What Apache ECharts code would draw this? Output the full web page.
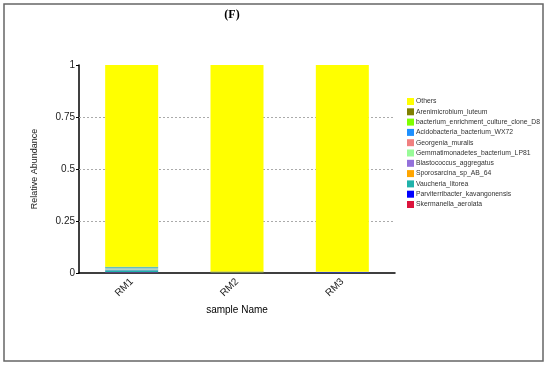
<!DOCTYPE html>
<html><head><meta charset="utf-8">
<script src="https://cdn.jsdelivr.net/npm/echarts@6/dist/echarts.min.js"></script>
<style>html,body{margin:0;padding:0;background:#fff}#c{width:550px;height:368px}</style>
</head><body><div id="c"></div>
<script>
const categories = ['RM1','RM2','RM3'];
// bottom-to-top stack order
const seriesNames = ['Skermanella_aerolata','Parviterribacter_kavangonensis','Vaucheria_litorea','Sporosarcina_sp_AB_64','Blastococcus_aggregatus','Gemmatimonadetes_bacterium_LP81','Georgenia_muralis','Acidobacteria_bacterium_WX72','bacterium_enrichment_culture_clone_D8','Arenimicrobium_luteum','Others'];
const colors = ['#DC143C','#0000FF','#20B2AA','#FFA500','#9370DB','#98FB98','#F08080','#1E90FF','#7FFF00','#808000','#FFFF00'];
const Skermanella_aerolata = [0.003, 0.001, 0.001];
const Parviterribacter_kavangonensis = [0.001, 0.0005, 0.003];
const Vaucheria_litorea = [0.009, 0.0005, 0.0005];
const Sporosarcina_sp_AB_64 = [0.0005, 0.0005, 0.0003];
const Blastococcus_aggregatus = [0.003, 0.0003, 0.0003];
const Gemmatimonadetes_bacterium_LP81 = [0.005, 0.0003, 0.0003];
const Georgenia_muralis = [0.001, 0.0003, 0.0002];
const Acidobacteria_bacterium_WX72 = [0.005, 0.0003, 0.0003];
const bacterium_enrichment_culture_clone_D8 = [0.001, 0.0003, 0.0002];
const Arenimicrobium_luteum = [0.001, 0.003, 0.0005];
const Others = [0.9705, 0.9933, 0.9934];
const yTicks = [0, 0.25, 0.5, 0.75, 1];
const gridLines = [0.25, 0.5, 0.75];

const dataMap = {Skermanella_aerolata, Parviterribacter_kavangonensis, Vaucheria_litorea, Sporosarcina_sp_AB_64, Blastococcus_aggregatus, Gemmatimonadetes_bacterium_LP81, Georgenia_muralis, Acidobacteria_bacterium_WX72, bacterium_enrichment_culture_clone_D8, Arenimicrobium_luteum, Others};

const series = seriesNames.map((n,i)=>({
  name:n, type:'bar', stack:'s', barWidth:53, data:dataMap[n],
  itemStyle:{color:colors[i]}, z: 3,
  markLine: i===0 ? {silent:true, symbol:'none', label:{show:false}, z:1,
    lineStyle:{color:'#aaa', type:[2,2], width:1},
    data: gridLines.map(v=>({yAxis:v}))} : undefined
}));

const chart = echarts.init(document.getElementById('c'));
chart.setOption({
  animation:false,
  title:{text:'(F)', left:227, top:4, textAlign:'center',
    textStyle:{fontFamily:'Liberation Serif', fontWeight:'bold', fontSize:12, color:'#000'}},
  graphic:[{type:'rect', shape:{x:4,y:4,width:539,height:357}, style:{fill:'none', stroke:'#666', lineWidth:1.5}, silent:true}],
  grid:{left:79, right:155, top:65, bottom:95},
  legend:{data:seriesNames.slice().reverse(), orient:'vertical', left:402, top:93, itemWidth:7, itemHeight:7, itemGap:3.3,
    icon:'rect', textStyle:{fontSize:6.8, color:'#333', fontFamily:'Liberation Sans', padding:[0,0,0,-3]}},
  xAxis:{type:'category', data:categories, name:'sample Name', nameLocation:'middle', nameGap:28,
    nameTextStyle:{fontSize:10, color:'#000', fontFamily:'Liberation Sans'},
    axisLine:{lineStyle:{color:'#000', width:1.5}}, axisTick:{length:3, lineStyle:{color:'#000'}},
    axisLabel:{rotate:45, fontSize:10, color:'#222', fontFamily:'Liberation Sans', margin:7}},
  yAxis:{type:'value', min:0, max:1, interval:0.25, name:'Relative Abundance', nameLocation:'middle', nameGap:40,
    nameTextStyle:{fontSize:9, color:'#222', fontFamily:'Liberation Sans'},
    splitLine:{show:false},
    axisLine:{show:true, lineStyle:{color:'#000', width:1.5}}, axisTick:{show:true, length:3, lineStyle:{color:'#000'}},
    axisLabel:{fontSize:10, color:'#222', fontFamily:'Liberation Sans', margin:4,
      formatter:v=> yTicks.includes(v) ? String(v) : ''}},
  series
});
</script></body></html>
